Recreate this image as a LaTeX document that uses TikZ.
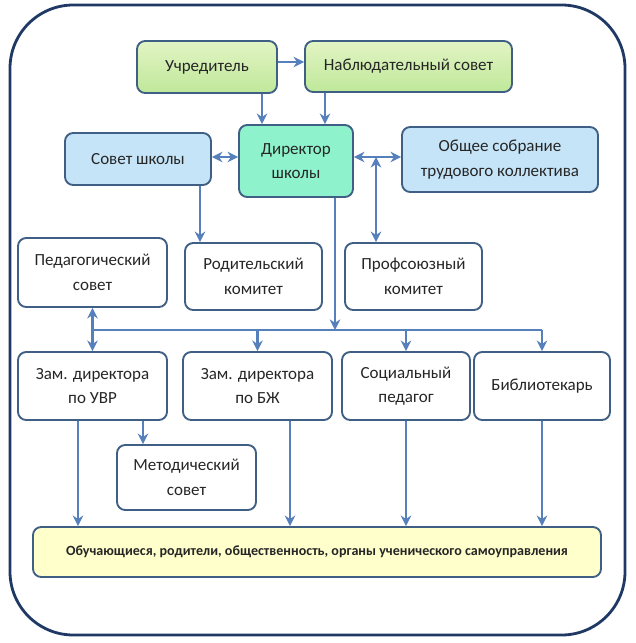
\documentclass[tikz,border=0pt]{standalone}
\usepackage{fontspec}
\setmainfont{Carlito}
\usetikzlibrary{arrows.meta}
\definecolor{frame}{HTML}{1F3864}
\definecolor{edge}{HTML}{3F5F85}
\definecolor{arr}{HTML}{5580BB}
\definecolor{grA}{HTML}{E2F4C4}
\definecolor{grB}{HTML}{BFE89A}
\definecolor{blu}{HTML}{C6E4F8}
\definecolor{mint}{HTML}{8EF2CC}
\definecolor{ylw}{HTML}{FFFFCC}

\begin{document}
\begin{tikzpicture}[x=0.03cm, y=-0.03cm,
  box/.style = {draw=edge, line width=1.6pt, rounded corners=7pt, align=center,
                font=\fontsize{14.5}{21}\selectfont, text=black!85},
  unit/.style = {box, fill=white},
  top/.style = {box, top color=grA, bottom color=grB},
  side/.style = {box, fill=blu},
  arw/.style = {draw=arr, line width=2.4pt, -{Stealth[length=9pt,width=9pt]}},
  both/.style = {arw, {Stealth[length=9pt,width=9pt]}-{Stealth[length=9pt,width=9pt]}},
  line/.style = {draw=arr, line width=2.4pt},]

\useasboundingbox (0,0) rectangle (635,643);
\draw[frame, line width=2.4pt, rounded corners=1.9cm] (10,5) rectangle (625,635);

\node[top, minimum width=4.2cm, minimum height=1.56cm] (ucr) at (207,67) {Учредитель};
\node[top, minimum width=6.21cm, minimum height=1.53cm] (nab) at (408.5,66.5) {Наблюдательный совет};

\node[side, minimum width=4.38cm, minimum height=1.56cm] (sov) at (138,159) {Совет школы};
\node[box, fill=mint, minimum width=3.42cm, minimum height=2.16cm] (dir) at (296,161) {Директор\\школы};
\node[side, minimum width=5.88cm, minimum height=1.95cm] (obs) at (500,159.5) {Общее собрание\\трудового коллектива};

\node[unit, minimum width=4.47cm, minimum height=2.07cm] (ped) at (92.5,272.5) {Педагогический\\совет};
\node[unit, minimum width=4.11cm, minimum height=2.01cm] (rod) at (253.5,276.5) {Родительский\\комитет};
\node[unit, minimum width=4.11cm, minimum height=2.01cm] (prof) at (413.5,276.5) {Профсоюзный\\комитет};

\node[unit, minimum width=4.47cm, minimum height=2.04cm] (uvr) at (92.5,386) {Зам. директора\\по УВР};
\node[unit, minimum width=4.47cm, minimum height=2.04cm] (bzh) at (257.5,386) {Зам. директора\\по БЖ};
\node[unit, minimum width=3.84cm, minimum height=2.04cm] (soc) at (406,386) {Социальный\\педагог};
\node[unit, minimum width=4.08cm, minimum height=2.04cm] (bib) at (542,386) {Библиотекарь};

\node[unit, minimum width=4.17cm, minimum height=1.95cm] (met) at (186.5,477.5) {Методический\\совет};

\node[box, fill=ylw, minimum width=17.04cm, minimum height=1.5cm, font=\fontsize{12}{14}\selectfont\bfseries] (bot) at (317,552) {Обучающиеся, родители, общественность, органы ученического самоуправления};

% columns of the connectors
\coordinate (c1) at (262,0);
\coordinate (c2) at (325,0);
\coordinate (c3) at (200,0);
\coordinate (c4) at (376,0);
\coordinate (c5) at (335,0);
\coordinate (c6) at (78,0);
\coordinate (c7) at (143,0);
\coordinate (c8) at (290,0);
\coordinate (r1) at (0,62);
\coordinate (r2) at (0,157);
\coordinate (bus) at (0,330);

\draw[arw] (ucr.east |- r1) -- (nab.west |- r1);
\draw[arw] (ucr.south -| c1) -- (dir.north -| c1);
\draw[arw] (nab.south -| c2) -- (dir.north -| c2);
\draw[both] (sov.east |- r2) -- (dir.west |- r2);
\draw[both] (dir.east |- r2) -- (obs.west |- r2);
\draw[both] (c4 |- r2) -- (prof.north -| c4);
\draw[arw] (sov.south -| c3) -- (rod.north -| c3);

\draw[arw] (dir.south -| c5) -- (bus -| c5);
\draw[line] (bus -| ped) -- (bus -| bib);
\draw[arw] (bus -| ped) -- (ped.south);
\draw[arw] (bus -| uvr) -- (uvr.north);
\draw[arw] (bus -| bzh) -- (bzh.north);
\draw[arw] (bus -| soc) -- (soc.north);
\draw[arw] (bus -| bib) -- (bib.north);

\draw[arw] (uvr.south -| c6) -- (bot.north -| c6);
\draw[arw] (uvr.south -| c7) -- (met.north -| c7);
\draw[arw] (bzh.south -| c8) -- (bot.north -| c8);
\draw[arw] (soc.south) -- (bot.north -| soc);
\draw[arw] (bib.south) -- (bot.north -| bib);

\end{tikzpicture}
\end{document}
